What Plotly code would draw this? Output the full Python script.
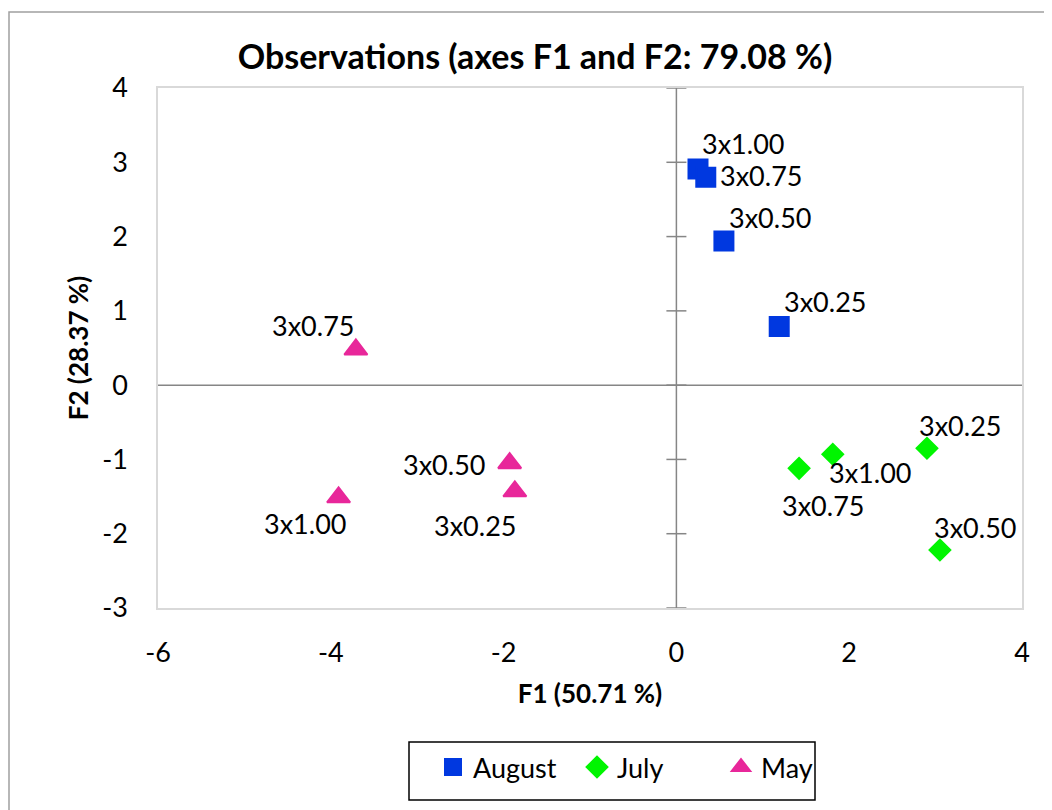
import plotly.graph_objects as go

# ---------------- data ----------------
august_labels = ["3x1.00", "3x0.75", "3x0.50", "3x0.25"]
august_f1 = [0.25, 0.34, 0.55, 1.19]
august_f2 = [2.91, 2.80, 1.94, 0.79]

july_labels = ["3x0.25", "3x0.50", "3x1.00", "3x0.75"]
july_f1 = [2.90, 3.05, 1.81, 1.42]
july_f2 = [-0.85, -2.22, -0.93, -1.12]

may_labels = ["3x0.75", "3x0.50", "3x0.25", "3x1.00"]
may_f1 = [-3.71, -1.93, -1.87, -3.91]
may_f2 = [0.48, -1.05, -1.43, -1.51]

x_ticks = [-6, -4, -2, 0, 2, 4]
x_tick_labels = ["-6", "-4", "-2", "0", "2", "4"]
y_ticks = [-3, -2, -1, 0, 1, 2, 3, 4]
y_tick_labels = ["-3", "-2", "-1", "0", "1", "2", "3", "4"]

# ---------------- styles ----------------
FONT = "Lato"
label_offsets = {
    "August": [(45, 25), (55, 2), (46, 24), (46, 25)],
    "July": [(33, 23), (35, 23), (37, -18), (24, -37)],
    "May": [(-43, 24), (-66, -1), (-40, -34), (-34, -26)],
}

series = [
    ("August", august_f1, august_f2, august_labels, "#0038E0", "square", 19),
    ("July", july_f1, july_f2, july_labels, "#00F500", "diamond", 16),
    ("May", may_f1, may_f2, may_labels, "#E8279A", "triangle-up", 20),
]

# page offset of the figure inside the browser (body margin)
OFF = 8

fig = go.Figure()
annotations = []
for name, xs, ys, labs, color, sym, size in series:
    fig.add_trace(go.Scatter(
        x=xs, y=ys, mode="markers", name=name,
        marker=dict(color=color, symbol=sym, size=size,
                    line=dict(color=color, width=2)),
        hoverinfo="skip",
    ))
    for (xv, yv, t, (dx, dy)) in zip(xs, ys, labs, label_offsets[name]):
        annotations.append(dict(
            x=xv, y=yv, text=t, showarrow=False, xshift=dx, yshift=dy,
            font=dict(family=FONT, size=27, color="#000000"),
        ))

shapes = []
# zero lines
shapes.append(dict(type="line", xref="x", yref="y", x0=0, x1=0, y0=-3, y1=4,
                   line=dict(color="#868686", width=1.5), layer="below"))
shapes.append(dict(type="line", xref="x", yref="y", x0=-6, x1=4, y0=0, y1=0,
                   line=dict(color="#868686", width=1.5), layer="below"))
for yv in y_ticks:
    shapes.append(dict(type="line", xref="x", yref="y", xsizemode="pixel", xanchor=0,
                       x0=-10, x1=10, y0=yv, y1=yv,
                       line=dict(color="#868686", width=1.5), layer="below"))
# outer chart border
shapes.append(dict(type="rect", xref="paper", yref="paper",
                   x0=(9 - 158) / 864, x1=(1080 - 158) / 864,
                   y0=(608 - 840) / 520, y1=(608 - 12) / 520,
                   line=dict(color="#A0A0A0", width=1.5), layer="below"))
# legend box
shapes.append(dict(type="rect", xref="paper", yref="paper",
                   x0=(409 - 158) / 864, x1=(815 - 158) / 864,
                   y0=(608 - 800) / 520, y1=(608 - 742) / 520,
                   line=dict(color="#000000", width=1.5), layer="below"))

fig.update_layout(
    width=1052, height=810,
    margin=dict(l=158 - OFF, r=1052 + OFF - 1022, t=88 - OFF, b=810 + OFF - 608),
    paper_bgcolor="white", plot_bgcolor="white",
    title=dict(text="<b>Observations (axes F1 and F2: 79.08 %)</b>",
               x=(535 - OFF) / 1052, xanchor="center",
               y=1 - (57 - OFF) / 810, yanchor="middle",
               font=dict(family=FONT, size=34, color="#000000")),
    xaxis=dict(range=[-6, 4], tickvals=x_ticks, ticktext=x_tick_labels,
               showgrid=False, zeroline=False,
               showline=True, mirror=True, linecolor="#D9D9D9", linewidth=1.5,
               ticks="", ticklabelstandoff=20,
               tickfont=dict(family=FONT, size=27, color="#000000"),
               title=dict(text="<b>F1 (50.71 %)</b>", standoff=18,
                          font=dict(family=FONT, size=26, color="#000000"))),
    yaxis=dict(range=[-3, 4], tickvals=y_ticks, ticktext=y_tick_labels,
               showgrid=False, zeroline=False,
               showline=True, mirror=True, linecolor="#D9D9D9", linewidth=1.5,
               ticks="", ticklabelstandoff=23,
               tickfont=dict(family=FONT, size=27, color="#000000"),
               title=dict(text="<b>F2 (28.37 %)</b>", standoff=6,
                          font=dict(family=FONT, size=26, color="#000000"))),
    legend=dict(orientation="h", x=(433 - 158) / 864, xanchor="left",
                y=(608 - 743) / 520, yanchor="top",
                entrywidth=99, itemwidth=30,
                bgcolor="rgba(0,0,0,0)", borderwidth=0,
                font=dict(family=FONT, size=27, color="#000000")),
    annotations=annotations,
    shapes=shapes,
)

fig.write_html("out.html")
